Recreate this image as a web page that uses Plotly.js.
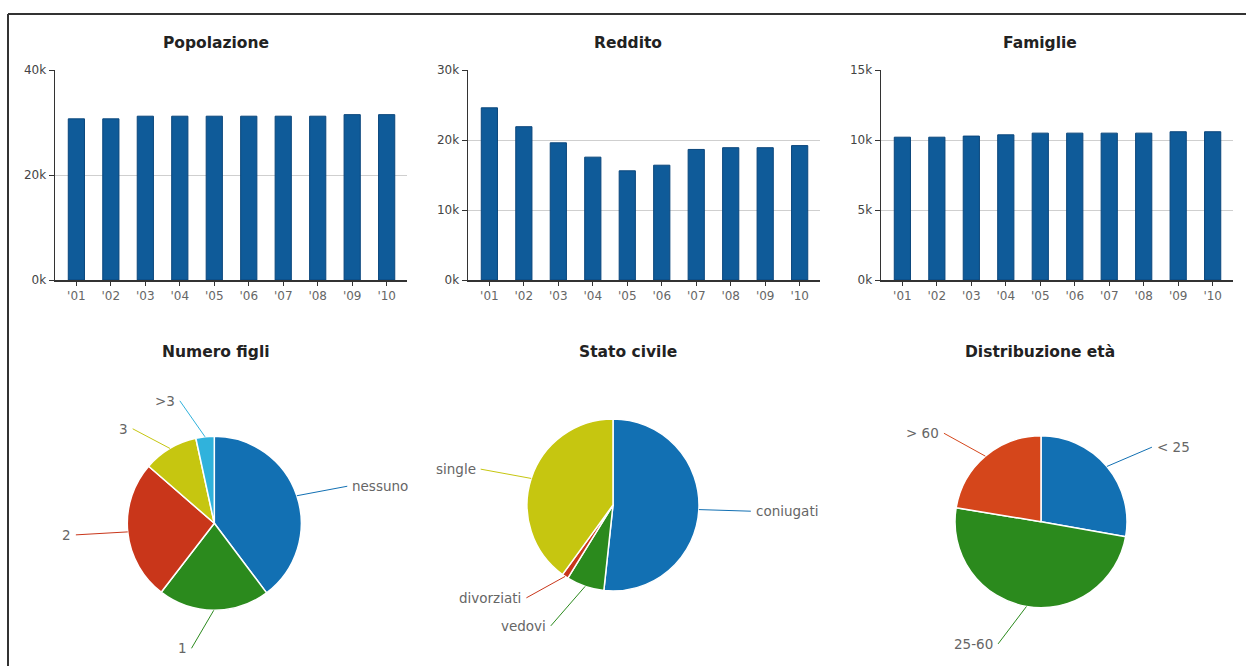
<!DOCTYPE html>
<html>
<head>
<meta charset="utf-8">
<script src="https://cdn.plot.ly/plotly-3.0.1.min.js"></script>
<style>
  html, body { margin: 0; padding: 0; background: #ffffff; }
  #chart { width: 1246px; height: 666px; }
</style>
</head>
<body>
<div id="chart"></div>
<script>
// ---------- DATA ----------
const years = ["'01", "'02", "'03", "'04", "'05", "'06", "'07", "'08", "'09", "'10"];
const popolazione = [30700, 30700, 31200, 31200, 31200, 31200, 31200, 31200, 31500, 31500];
const reddito = [24600, 21900, 19600, 17550, 15600, 16400, 18650, 18900, 18900, 19200];
const famiglie = [10200, 10200, 10280, 10370, 10490, 10490, 10490, 10490, 10590, 10590];

const popTickVals = [0, 20000, 40000];
const popTickText = ['0k', '20k', '40k'];
const redTickVals = [0, 10000, 20000, 30000];
const redTickText = ['0k', '10k', '20k', '30k'];
const famTickVals = [0, 5000, 10000, 15000];
const famTickText = ['0k', '5k', '10k', '15k'];

const figliLabels = ['nessuno', '1', '2', '3', '>3'];
const figliValues = [39.7, 20.7, 25.9, 10.2, 3.4];

const civileLabels = ['coniugati', 'vedovi', 'divorziati', 'single'];
const civileValues = [51.7, 7.1, 1.2, 40.0];

const etaLabels = ['< 25', '25-60', '> 60'];
const etaValues = [27.8, 49.8, 22.4];

// ---------- STYLE / LAYOUT HELPERS ----------
const W = 1246, H = 666;
const px = x => x / W;
const py = y => 1 - y / H;

const barColor = '#0f5b99';
const figliColors = ['#1270b3', '#2b8a1d', '#c9361a', '#c6c610', '#30b2dc'];
const civileColors = ['#1270b3', '#2b8a1d', '#c9361a', '#c6c610'];
const etaColors = ['#1270b3', '#2b8a1d', '#d5461b'];

const FONT = 'DejaVu Sans, Verdana, sans-serif';

const barDomX = [[55, 407], [468, 820], [881, 1233]];
const barDomY = [py(280), py(70)];
const catRange = [-0.62, 9.59];

const pies = [
  {cx: 214.3, cy: 523.3, r: 87, labels: figliLabels, values: figliValues, colors: figliColors},
  {cx: 613, cy: 505, r: 86, labels: civileLabels, values: civileValues, colors: civileColors},
  {cx: 1041, cy: 521.7, r: 86, labels: etaLabels, values: etaValues, colors: etaColors}
];

const traces = [];
const barSets = [popolazione, reddito, famiglie];
barSets.forEach((vals, i) => {
  const s = i === 0 ? '' : String(i + 1);
  traces.push({
    type: 'bar', x: years, y: vals, xaxis: 'x' + s, yaxis: 'y' + s,
    width: 0.47,
    marker: {color: barColor, line: {color: '#0a467c', width: 1}},
    hoverinfo: 'x+y', showlegend: false
  });
});

pies.forEach(p => {
  traces.push({
    type: 'pie', labels: p.labels, values: p.values, sort: false,
    direction: 'clockwise', rotation: 0,
    marker: {colors: p.colors, line: {color: '#ffffff', width: 1.5}},
    textinfo: 'none', textposition: 'inside',
    domain: {x: [px(p.cx - p.r), px(p.cx + p.r)], y: [py(p.cy + p.r), py(p.cy - p.r)]},
    showlegend: false, hoverinfo: 'label+percent'
  });
});

// ---------- ANNOTATIONS ----------
const annotations = [];
const titles = [
  ['Popolazione', 216, 43], ['Reddito', 628, 43], ['Famiglie', 1040, 43],
  ['Numero figli', 216, 352], ['Stato civile', 628, 352], ['Distribuzione età', 1040, 352]
];
titles.forEach(t => annotations.push({
  text: '<b>' + t[0] + '</b>', xref: 'paper', yref: 'paper', x: px(t[1]), y: py(t[2]),
  xanchor: 'center', yanchor: 'middle', showarrow: false,
  font: {family: FONT, size: 15.5, color: '#222222'}
}));

// pie data labels with connectors, positioned from each slice's mid-angle
pies.forEach(p => {
  const total = p.values.reduce((a, b) => a + b, 0);
  let cum = 0;
  const items = p.values.map((v, i) => {
    const mid = (cum + v / 2) / total * 2 * Math.PI;
    cum += v;
    const s = Math.sin(mid), c = Math.cos(mid);
    const right = s > 0.01;
    const R2 = p.r + 30 + (c < -0.9 ? 8 : 0);
    return {
      i, right,
      ex: p.cx + p.r * s, ey: p.cy - p.r * c,
      lx: p.cx + R2 * s + (right ? 22 : -22), ly: p.cy - R2 * c
    };
  });
  // avoid overlapping labels on the same side
  [true, false].forEach(side => {
    const grp = items.filter(d => d.right === side).sort((a, b) => a.ly - b.ly);
    for (let k = 1; k < grp.length; k++) {
      const gap = grp[k].ly - grp[k - 1].ly;
      if (gap < 28) {
        const push = (28 - gap) / 2;
        grp[k - 1].ly -= push; grp[k].ly += push;
      }
    }
  });
  items.forEach(d => annotations.push({
    text: p.labels[d.i], xref: 'paper', yref: 'paper',
    x: px(d.ex), y: py(d.ey), axref: 'pixel', ayref: 'pixel',
    ax: d.lx - d.ex, ay: d.ly - d.ey,
    xanchor: d.right ? 'left' : 'right', yanchor: 'middle',
    borderpad: 4,
    showarrow: true, arrowhead: 0, arrowwidth: 1, arrowcolor: p.colors[d.i],
    font: {family: FONT, size: 13.5, color: '#666666'}
  }));
});

// ---------- AXES ----------
function xAx(dom) {
  return {
    domain: [px(dom[0]), px(dom[1])], type: 'category', range: catRange,
    showline: true, linecolor: '#333333', linewidth: 1.5,
    ticks: 'outside', ticklen: 4, tickcolor: '#333333', tickwidth: 1,
    showgrid: false, zeroline: false, fixedrange: true,
    tickfont: {family: FONT, size: 12, color: '#666666'}
  };
}
function yAx(anchor, rng, tv, tt) {
  return {
    domain: barDomY, anchor: anchor, range: rng, tickvals: tv, ticktext: tt,
    showline: true, linecolor: '#333333', linewidth: 1.5,
    ticks: 'outside', ticklen: 5, tickcolor: '#333333', tickwidth: 1,
    showgrid: true, gridcolor: '#cfcfcf', gridwidth: 1, zeroline: false, fixedrange: true,
    tickfont: {family: FONT, size: 12, color: '#444444'}
  };
}

const layout = {
  width: W, height: H,
  margin: {l: 0, r: 0, t: 0, b: 0, pad: 0},
  paper_bgcolor: '#ffffff', plot_bgcolor: '#ffffff',
  showlegend: false,
  font: {family: FONT},
  xaxis: Object.assign(xAx(barDomX[0]), {anchor: 'y'}),
  xaxis2: Object.assign(xAx(barDomX[1]), {anchor: 'y2'}),
  xaxis3: Object.assign(xAx(barDomX[2]), {anchor: 'y3'}),
  yaxis: yAx('x', [0, 40000], popTickVals, popTickText),
  yaxis2: yAx('x2', [0, 30000], redTickVals, redTickText),
  yaxis3: yAx('x3', [0, 15000], famTickVals, famTickText),
  bargap: 0.5,
  annotations: annotations,
  shapes: [
    {type: 'line', xref: 'paper', yref: 'paper', x0: px(8), x1: 1, y0: py(14), y1: py(14),
     line: {color: '#333333', width: 2}},
    {type: 'line', xref: 'paper', yref: 'paper', x0: px(8), x1: px(8), y0: py(14), y1: 0,
     line: {color: '#333333', width: 2}}
  ]
};

Plotly.newPlot('chart', traces, layout, {displayModeBar: false, staticPlot: true});
</script>
</body>
</html>
